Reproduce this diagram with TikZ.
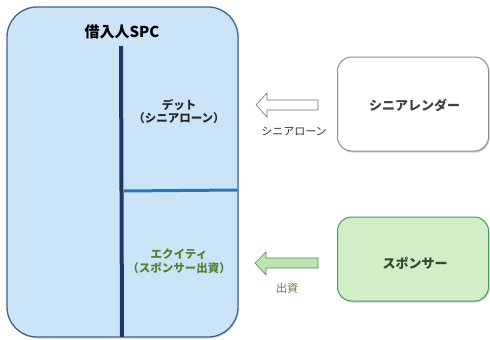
\documentclass[tikz,border=0pt]{standalone}
\usepackage{fontspec}
\setmainfont{Noto Sans CJK JP}
\usetikzlibrary{shadows}
\definecolor{spcfill}{HTML}{CCE4F8}
\definecolor{spcdraw}{HTML}{3F6588}
\definecolor{navy}{HTML}{1F3864}
\definecolor{midblue}{HTML}{2E75B6}
\definecolor{txtgreen}{HTML}{548235}
\definecolor{spfill}{HTML}{D3EEC6}
\definecolor{spdraw}{HTML}{3E9F5A}
\definecolor{spgreen}{HTML}{2F4A2F}
\definecolor{arrgreen}{HTML}{BFE3B4}
\definecolor{arrgreendraw}{HTML}{4E8A52}
\tikzset{
  bigbox/.style={draw=spcdraw, line width=1.3pt, fill=spcfill, rounded corners=30pt, drop shadow={shadow xshift=1pt, shadow yshift=-1.5pt, opacity=0.3}},
  sidebox/.style={rounded corners=14pt, line width=1pt, drop shadow={shadow xshift=1pt, shadow yshift=-1.5pt, opacity=0.35}},
  lbl/.style={font=\fontsize{11.5}{13.5}\selectfont, align=center, inner sep=0pt},
  hollowarrow/.style={line width=0.6pt, line join=miter}
}
\begin{document}
\begin{tikzpicture}[x=1pt,y=-1pt]
\useasboundingbox (0,0) rectangle (490,340);
% main box
\path[bigbox] (7,7) rectangle (238,337);
\node[font=\fontsize{15}{18}\selectfont\bfseries, inner sep=0pt] (title) at (122,32) {借入人SPC};
\coordinate (vtop) at (121,46);
\coordinate (vbot) at (122,337);
\draw[navy, line width=4pt] (vtop) -- (vbot);
\coordinate (hl) at (124,191);
\coordinate (hr) at (237,190);
\draw[midblue, line width=3pt] (hl) -- (hr);
\node[lbl, font=\fontsize{11.5}{13.5}\selectfont\bfseries, text=black!85] (debt) at (179,111.5) {デット\\（シニアローン）};
\node[lbl, font=\fontsize{11.5}{13.5}\selectfont\bfseries, text=txtgreen] (equity) at (179,261.5) {エクイティ\\（スポンサー出資）};
% senior lender
\node[sidebox, draw=black!45, fill=white, minimum width=151pt, minimum height=94pt, font=\fontsize{13}{15}\selectfont\bfseries, text=black!75] (lender) at (413,104) {};
\node[font=\fontsize{13}{15}\selectfont\bfseries, text=black!75, inner sep=0pt] (lendertxt) at (414.5,105) {シニアレンダー};
% sponsor
\node[sidebox, draw=spdraw, fill=spfill, minimum width=151pt, minimum height=84pt] (sponsor) at (413,259) {};
\node[font=\fontsize{13}{15}\selectfont\bfseries, text=spgreen, inner sep=0pt] (sponsortxt) at (415,263) {スポンサー};
% arrows
\draw[hollowarrow, draw=black!55, fill=white]
  (318,100) -- (267,100) -- (267,93) -- (256,105) -- (267,117) -- (267,110) -- (318,110) -- cycle;
\node[lbl, font=\fontsize{11}{13}\selectfont, text=black!80] (lenderlbl) at (294,131) {シニアローン};
\draw[hollowarrow, draw=arrgreendraw, fill=arrgreen]
  (318,258) -- (266,258) -- (266,252) -- (255,263) -- (266,275) -- (266,268) -- (318,268) -- cycle;
\node[lbl, font=\fontsize{11}{13}\selectfont, text=txtgreen] (sponsorlbl) at (287,288) {出資};
\end{tikzpicture}
\end{document}
